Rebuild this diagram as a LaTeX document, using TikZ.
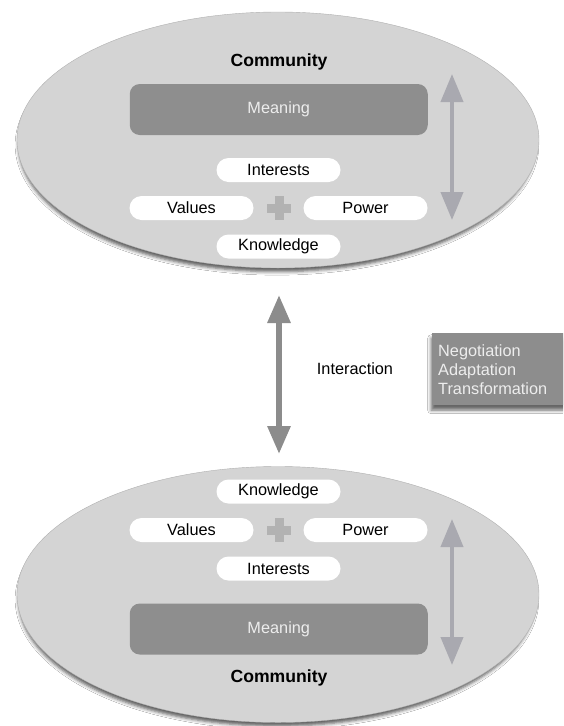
\documentclass[tikz,border=0pt]{standalone}
\usepackage{fontspec}
\setmainfont{Liberation Sans}
\usetikzlibrary{arrows.meta,shapes.geometric,shadows.blur}
\definecolor{ellfill}{HTML}{D4D4D4}
\definecolor{elldraw}{HTML}{B0B0B0}
\definecolor{meanfill}{HTML}{8E8E8E}
\definecolor{meantext}{HTML}{EDEDED}
\definecolor{plusgray}{HTML}{B2B2B2}
\definecolor{innerarrow}{HTML}{A9A9B0}
\definecolor{outerarrow}{HTML}{8C8C8C}
\definecolor{boxfill}{HTML}{8D8D8D}
\begin{document}
\begin{tikzpicture}[x=1pt,y=-1pt,
  every node/.style={font=\fontsize{16.3}{19}\selectfont},
  community/.style={ellipse, fill=ellfill, draw=elldraw, line width=0.4pt,
    minimum width=522pt, minimum height=256pt, inner sep=0pt,
    blur shadow={shadow xshift=-1pt, shadow yshift=-5pt, shadow scale=0.99, shadow blur radius=3.5pt, shadow opacity=65}},
  title/.style={font=\fontsize{17.6}{20}\selectfont\bfseries},
  meaningbox/.style={fill=meanfill, rounded corners=10pt, minimum width=298pt,
    minimum height=51pt, inner sep=0pt, text=meantext},
  pill/.style={fill=white, rounded corners=12pt, minimum width=124pt,
    minimum height=24pt, inner sep=0pt},
  innerdbl/.style={draw=innerarrow, line width=4pt,
    {Triangle[length=28pt,width=22pt,fill=innerarrow]}-{Triangle[length=28pt,width=22pt,fill=innerarrow]}},
  outerdbl/.style={draw=outerarrow, line width=6pt,
    {Triangle[length=28pt,width=22pt,fill=outerarrow]}-{Triangle[length=28pt,width=22pt,fill=outerarrow]}},
  procbox/.style={fill=boxfill, text=meantext, anchor=north west,
    minimum width=145pt, minimum height=72pt, text width=133pt,
    inner xsep=6pt, inner ysep=0pt, align=left,
    font=\fontsize{16.3}{19}\selectfont,
    blur shadow={shadow xshift=-1pt, shadow yshift=-5pt, shadow blur radius=3.5pt, shadow opacity=60}}
]
\clip (0,0) rectangle (563,726);
\fill[white] (0,0) rectangle (563,726);

% ---- top community ----
\node[community] (topell) at (278,140) {};
\node[title] (toptitle) at (279,62) {Community};
\node[meaningbox] (topmean) at (278.75,109.5) {Meaning};
\node[pill] (topint) at (278.5,170) {Interests};
\node[pill] (topval) at (191.5,208) {Values};
\node[pill] (toppow) at (365.5,208) {Power};
\node[pill] (topknow) at (278.5,246.5) {Knowledge};
\fill[plusgray] (267,203.5) rectangle (291,212.5);
\fill[plusgray] (274.5,196) rectangle (283.5,220);
\coordinate (topA1) at (452,74);
\coordinate (topA2) at (452,220);
\draw[innerdbl] (topA1) -- (topA2);

% ---- bottom community ----
\node[community] (botell) at (278,594.5) {};
\node[title] (bottitle) at (279,678) {Community};
\node[meaningbox] (botmean) at (278.75,629) {Meaning};
\node[pill] (botknow) at (278.5,491.5) {Knowledge};
\node[pill] (botval) at (191.5,530) {Values};
\node[pill] (botpow) at (365.5,530) {Power};
\node[pill] (botint) at (278.5,568.5) {Interests};
\fill[plusgray] (267,525.5) rectangle (291,534.5);
\fill[plusgray] (274.5,518) rectangle (283.5,542);
\coordinate (botA1) at (452,519);
\coordinate (botA2) at (452,665);
\draw[innerdbl] (botA1) -- (botA2);

% ---- interaction ----
\coordinate (intA1) at (279,295);
\coordinate (intA2) at (279,454);
\draw[outerdbl] (intA1) -- (intA2);
\node (interaction) at (355,369) {Interaction};
\node[procbox] (proc) at (432,333) {Negotiation\\Adaptation\\Transformation};
\end{tikzpicture}
\end{document}
